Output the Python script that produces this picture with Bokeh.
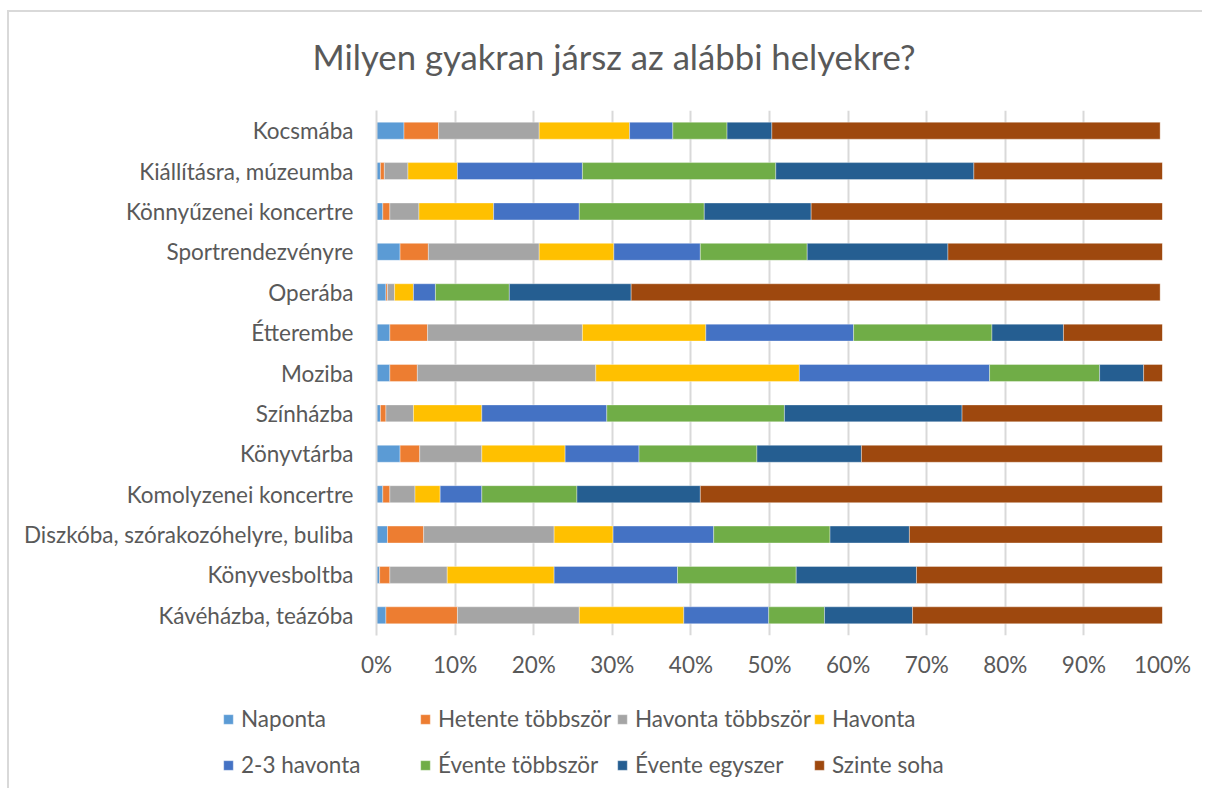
from bokeh.plotting import figure
from bokeh.models import (FactorRange, Range1d, PrintfTickFormatter, FixedTicker,
                          Legend, LegendItem, Title)
from bokeh.embed import file_html
from bokeh.resources import INLINE

categories = ["Kocsmába", "Kiállításra, múzeumba", "Könnyűzenei koncertre",
              "Sportrendezvényre", "Operába", "Étterembe", "Moziba", "Színházba",
              "Könyvtárba", "Komolyzenei koncertre", "Diszkóba, szórakozóhelyre, buliba",
              "Könyvesboltba", "Kávéházba, teázóba"]

series = ["Naponta", "Hetente többször", "Havonta többször", "Havonta",
          "2-3 havonta", "Évente többször", "Évente egyszer", "Szinte soha"]

naponta          = [3.5, 0.5, 0.8, 3.0, 1.2, 1.7, 1.7, 0.5, 3.0, 0.8, 1.4, 0.4, 1.2]
hetente_tobb     = [4.4, 0.5, 0.9, 3.6, 0.2, 4.8, 3.5, 0.7, 2.5, 0.9, 4.6, 1.3, 9.1]
havonta_tobb     = [12.8, 3.0, 3.7, 14.1, 0.9, 19.7, 22.7, 3.5, 7.9, 3.2, 16.6, 7.3, 15.5]
havonta          = [11.5, 6.3, 9.5, 9.5, 2.4, 15.7, 25.9, 8.7, 10.6, 3.2, 7.5, 13.6, 13.3]
havonta_2_3      = [5.5, 15.9, 10.9, 11.0, 2.8, 18.8, 24.2, 15.9, 9.4, 5.3, 12.8, 15.7, 10.8]
evente_tobb      = [6.9, 24.6, 15.9, 13.6, 9.4, 17.6, 14.0, 22.6, 15.0, 12.1, 14.8, 15.1, 7.1]
evente_egyszer   = [5.7, 25.2, 13.6, 17.9, 15.5, 9.1, 5.6, 22.6, 13.3, 15.7, 10.1, 15.3, 11.2]
szinte_soha      = [49.4, 24.0, 44.7, 27.3, 67.3, 12.6, 2.4, 25.5, 38.3, 58.8, 32.2, 31.3, 31.8]

colors = ["#5B9BD5", "#ED7D31", "#A5A5A5", "#FFC000",
          "#4472C4", "#70AD47", "#255E91", "#9E480E"]

tick_values = [0, 10, 20, 30, 40, 50, 60, 70, 80, 90, 100]

FONT = "Lato"
TXT = "#595959"

data = {"cat": categories}
for name, vals in zip(series, [naponta, hetente_tobb, havonta_tobb, havonta,
                                havonta_2_3, evente_tobb, evente_egyszer, szinte_soha]):
    data[name] = vals

# ---- main chart ----
p = figure(width=1195, height=678, output_backend="svg", toolbar_location=None,
           y_range=FactorRange(factors=categories[::-1], range_padding=0),
           x_range=Range1d(0, 100),
           min_border_left=367, min_border_right=42, min_border_top=97,
           min_border_bottom=55,
           styles={"margin-left": "7px", "margin-top": "10px",
                   "border-top": "2px solid #d9d9d9", "border-left": "2px solid #d9d9d9"})
p.outline_line_color = None

bar_kw = dict(y="cat", height=0.42, color=colors, source=data,
              line_color="white", line_width=0.6, line_alpha=0.6)
renderers = p.hbar_stack(series, **bar_kw)

p.xaxis.ticker = FixedTicker(ticks=tick_values)
p.xaxis.formatter = PrintfTickFormatter(format="%d%%")
p.xaxis.axis_line_color = None
p.xaxis.major_tick_line_color = None
p.xaxis.minor_tick_line_color = None
p.xaxis.major_label_standoff = 9
p.xaxis.major_label_text_font = FONT
p.xaxis.major_label_text_font_size = "22.5px"
p.xaxis.major_label_text_color = TXT

p.yaxis.axis_line_color = "#d9d9d9"
p.yaxis.axis_line_width = 2
p.yaxis.major_tick_line_color = None
p.yaxis.minor_tick_line_color = None
p.yaxis.major_label_standoff = 17
p.yaxis.major_label_text_font = FONT
p.yaxis.major_label_text_font_size = "22.5px"
p.yaxis.major_label_text_color = TXT

p.xgrid.grid_line_color = "#d9d9d9"
p.xgrid.grid_line_width = 2
p.ygrid.grid_line_color = None

spacer = Title(text=" ", text_font_size="9px", standoff=0, text_font=FONT)
p.add_layout(spacer, "above")
title = Title(text="Milyen gyakran jársz az alábbi helyekre?", align="left", offset=-64,
              text_font=FONT, text_font_size="34.7px", text_font_style="normal",
              text_color=TXT, standoff=42)
p.add_layout(title, "above")

# ---- legend strip (separate root, no frame alignment) ----
lg_fig = figure(width=1195, height=100, output_backend="svg", toolbar_location=None,
                x_range=Range1d(-200, -100),
                y_range=FactorRange(factors=categories[::-1]),
                min_border_left=0, min_border_right=0, min_border_top=0,
                min_border_bottom=0,
                styles={"margin-left": "7px", "border-left": "2px solid #d9d9d9"})
lg_fig.axis.visible = False
lg_fig.grid.visible = False
lg_fig.outline_line_color = None
swatches = lg_fig.hbar_stack(series, **bar_kw)

def make_legend(idx, y):
    items = [LegendItem(label=series[i], renderers=[swatches[i]]) for i in idx]
    return Legend(items=items, orientation="horizontal", location=(213, y),
                  glyph_width=12, glyph_height=12, label_standoff=7, label_width=178,
                  spacing=0, padding=0, margin=0, border_line_color=None,
                  background_fill_alpha=0, label_text_font=FONT,
                  label_text_font_size="22.5px", label_text_color=TXT)

lg_fig.add_layout(make_legend([0, 1, 2, 3], 56), "center")
lg_fig.add_layout(make_legend([4, 5, 6, 7], 10), "center")

open("out.html", "w").write(file_html([p, lg_fig], INLINE))
